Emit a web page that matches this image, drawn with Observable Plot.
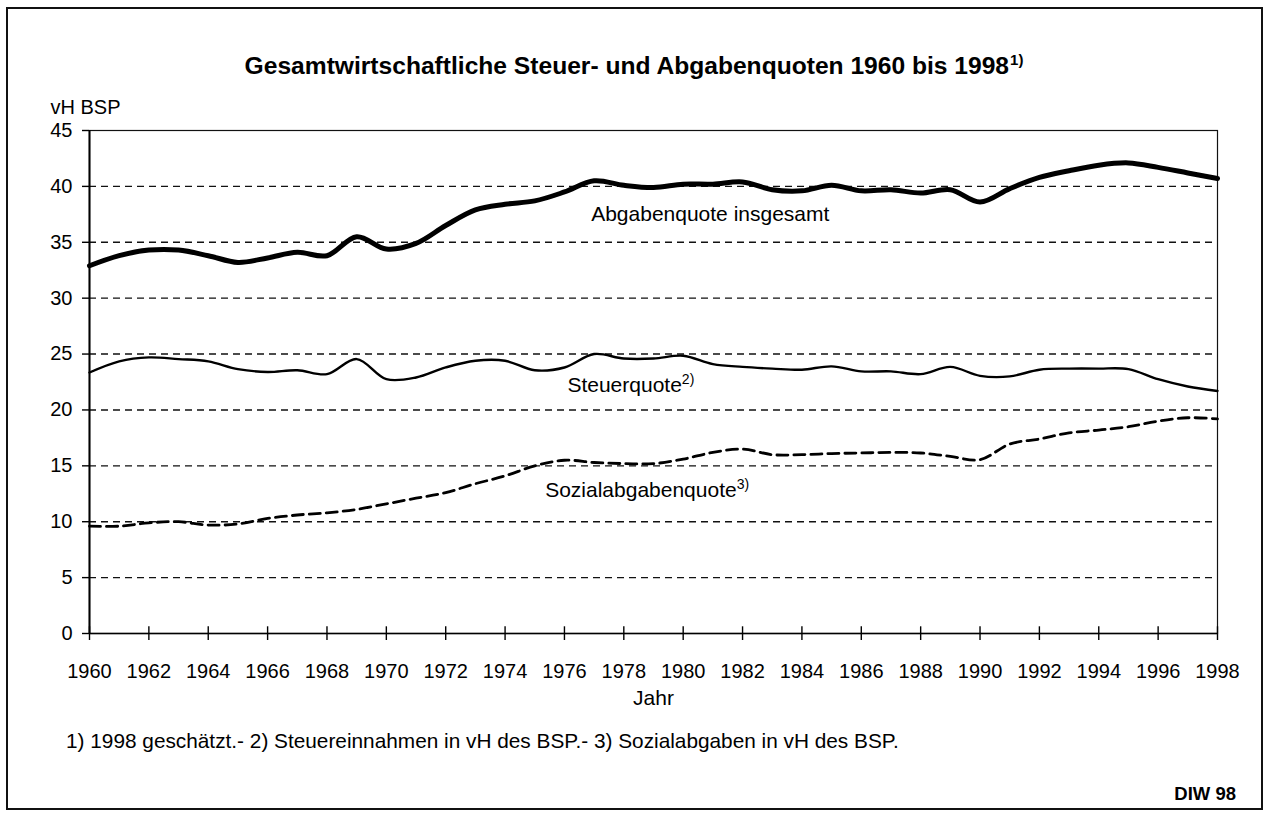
<!DOCTYPE html>
<html>
<head>
<meta charset="utf-8">
<script src="https://cdn.jsdelivr.net/npm/d3@7"></script>
<script src="https://cdn.jsdelivr.net/npm/@observablehq/plot@0.6"></script>
<style>
  html, body { margin: 0; padding: 0; background: #fff; }
  body { font-family: "Liberation Sans", Arial, Helvetica, sans-serif; color: #000; }
  #wrap { position: relative; width: 1268px; height: 813px; overflow: hidden; }
  #frame { position: absolute; left: 6px; top: 7px; width: 1257px; height: 803px; border: 2px solid #111; box-sizing: border-box; }
  #title { position: absolute; top: 52px; left: 0; width: 1268px; text-align: center; font-weight: bold; font-size: 24.6px; line-height: 28px; white-space: nowrap; }
  #title sup { font-size: 15px; vertical-align: top; position: relative; top: -6px; margin-left: 1px; }
  #chart { position: absolute; top: 85px; left: 0; }
  #note { position: absolute; left: 66px; top: 730px; font-size: 20.8px; line-height: 22px; white-space: nowrap; }
  #src { position: absolute; right: 32px; top: 783px; font-size: 18.5px; font-weight: bold; line-height: 22px; }
</style>
</head>
<body>
<div id="wrap">
  <div id="frame"></div>
  <div id="title">Gesamtwirtschaftliche Steuer- und Abgabenquoten 1960 bis 1998<sup>1)</sup></div>
  <div id="chart"></div>
  <div id="note">1) 1998 geschätzt.- 2) Steuereinnahmen in vH des BSP.- 3) Sozialabgaben in vH des BSP.</div>
  <div id="src">DIW 98</div>
</div>
<script>
// ---- Data ----
const years = [1960,1961,1962,1963,1964,1965,1966,1967,1968,1969,
               1970,1971,1972,1973,1974,1975,1976,1977,1978,1979,
               1980,1981,1982,1983,1984,1985,1986,1987,1988,1989,
               1990,1991,1992,1993,1994,1995,1996,1997,1998];

const abgabenquote = [32.9,33.8,34.3,34.3,33.8,33.2,33.6,34.1,33.8,35.5,
                      34.4,34.9,36.5,37.9,38.4,38.7,39.5,40.5,40.1,39.9,
                      40.2,40.2,40.4,39.7,39.6,40.1,39.6,39.7,39.4,39.7,
                      38.6,39.8,40.8,41.4,41.9,42.1,41.7,41.2,40.7];

const steuerquote = [23.35,24.35,24.7,24.55,24.35,23.65,23.4,23.55,23.2,24.55,
                     22.75,22.9,23.8,24.4,24.4,23.55,23.8,25.0,24.6,24.6,
                     24.85,24.1,23.85,23.7,23.6,23.9,23.45,23.45,23.2,23.85,
                     23.05,23.0,23.6,23.7,23.7,23.65,22.75,22.1,21.7];

const sozialabgabenquote = [9.6,9.6,9.9,10.0,9.7,9.8,10.3,10.6,10.8,11.1,
                            11.6,12.1,12.6,13.4,14.1,15.0,15.5,15.3,15.2,15.2,
                            15.6,16.2,16.5,16.0,16.0,16.1,16.15,16.2,16.15,15.85,
                            15.55,16.95,17.4,17.95,18.2,18.5,19.0,19.3,19.2];

const xTicks = [1960,1962,1964,1966,1968,1970,1972,1974,1976,1978,
                1980,1982,1984,1986,1988,1990,1992,1994,1996,1998];
const yTicks = [0,5,10,15,20,25,30,35,40,45];
const gridLines = [5,10,15,20,25,30,35,40];
const tickUp = 0.6; // upper half of the crossing x-axis tick marks, in axis units

const labelNames = ["Abgabenquote insgesamt", "Steuerquote", "Sozialabgabenquote"];
const labelNotes = ["", "2)", "3)"];
const labelYears = [1976.9, 1976.1, 1975.35];
const labelValues = [37.55, 22.2, 12.85];

// ---- Build tables ----
const rows = years.map((year, i) => ({
  year,
  abgaben: abgabenquote[i],
  steuer: steuerquote[i],
  sozial: sozialabgabenquote[i]
}));
const labels = labelNames.map((name, i) => ({
  name, note: labelNotes[i], year: labelYears[i], value: labelValues[i]
}));

const chart = Plot.plot({
  width: 1268,
  height: 640,
  marginLeft: 89,
  marginRight: 51,
  marginTop: 45,
  marginBottom: 92,
  style: { fontFamily: "'Liberation Sans', Arial, Helvetica, sans-serif", fontSize: "20px", color: "#000", background: "transparent" },
  x: { domain: [1960, 1998] },
  y: { domain: [0, 45] },
  marks: [
    Plot.ruleY(gridLines, { stroke: "#111", strokeWidth: 1.4, strokeDasharray: "7,5" }),
    Plot.frame({ stroke: "#111", strokeWidth: 1.2 }),
    Plot.ruleX([1960], { stroke: "#000", strokeWidth: 2 }),
    Plot.ruleY([0], { stroke: "#000", strokeWidth: 1.6 }),
    Plot.axisY({ ticks: yTicks, tickSize: 7, tickPadding: 10, fontSize: 20, label: null, strokeWidth: 1.4 }),
    Plot.ruleX(xTicks, { x: d => d, y1: 0, y2: tickUp, stroke: "#000", strokeWidth: 1.4 }),
    Plot.axisX({ ticks: xTicks, tickSize: 7, tickPadding: 23, fontSize: 20, tickFormat: d => String(d), label: null, strokeWidth: 1.4 }),
    Plot.text(["Jahr"], { frameAnchor: "bottom", dy: 71, fontSize: 21 }),
    Plot.text(["vH BSP"], { frameAnchor: "top-left", dx: -39, dy: -31, textAnchor: "start", fontSize: 20 }),
    Plot.line(rows, { x: "year", y: "sozial", curve: "catmull-rom", stroke: "#000", strokeWidth: 2.8, strokeDasharray: "11,6" }),
    Plot.line(rows, { x: "year", y: "steuer", curve: "catmull-rom", stroke: "#000", strokeWidth: 2.4 }),
    Plot.line(rows, { x: "year", y: "abgaben", curve: "catmull-rom", stroke: "#000", strokeWidth: 5 }),
    Plot.text(labels, { x: "year", y: "value", text: "name", textAnchor: "start", fontSize: 21 })
  ]
});

// superscript footnote markers on the series labels
chart.querySelectorAll("text").forEach(t => {
  const idx = labelNames.indexOf(t.textContent);
  if (idx >= 0 && labelNotes[idx]) {
    const ts = document.createElementNS("http://www.w3.org/2000/svg", "tspan");
    ts.setAttribute("dy", "-8");
    ts.setAttribute("font-size", "14");
    ts.textContent = labelNotes[idx];
    t.appendChild(ts);
  }
});

document.getElementById("chart").appendChild(chart);
</script>
</body>
</html>
